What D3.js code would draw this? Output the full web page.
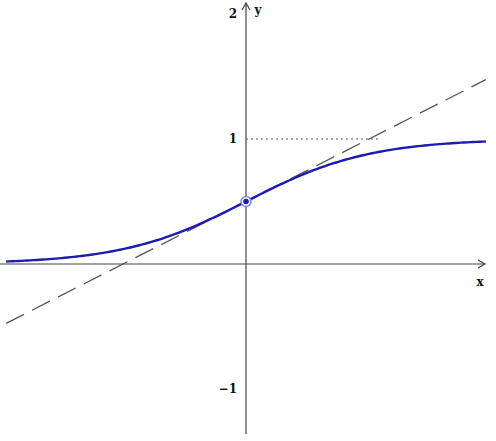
<!DOCTYPE html>
<html lang="en">
<head>
  <script src="https://d3js.org/d3.v7.min.js"></script>
  <style>
    body { margin: 0; background: #fff; }
    .lbl { font-family: "DejaVu Serif", serif; font-weight: bold; font-size: 12px; fill: #111; }
  </style>
</head>
<body>
<svg width="496" height="441"></svg>
<script>
  // data
  var xTicks = [];
  var yTicks = [2, 1, -1];
  var xStart = -3.9, xEnd = 3.9;
  var point = [0, 0.5];
  var slope = 0.25;

  var svg = d3.select("svg");

  var x = d3.scaleLinear().domain([-4, 4]).range([0, 492]);
  var y = d3.scaleLinear().domain([-1, 1]).range([389, 139]);

  function sigmoid(t) { return 1 / (1 + Math.exp(-t)); }

  // axes
  svg.append("line")
     .attr("x1", x(-4)).attr("x2", 484)
     .attr("y1", y(0)).attr("y2", y(0))
     .attr("stroke", "#444").attr("stroke-width", 1.2);
  svg.append("path")
     .attr("d", "M478," + (y(0) - 4) + " L485," + y(0) + " L478," + (y(0) + 4))
     .attr("fill", "none").attr("stroke", "#444").attr("stroke-width", 1.2);

  svg.append("line")
     .attr("x1", x(0)).attr("x2", x(0))
     .attr("y1", 434).attr("y2", 3)
     .attr("stroke", "#444").attr("stroke-width", 1.2);
  svg.append("path")
     .attr("d", "M" + (x(0) - 4) + ",10 L" + x(0) + ",3 L" + (x(0) + 4) + ",10")
     .attr("fill", "none").attr("stroke", "#444").attr("stroke-width", 1.2);

  svg.append("text").attr("class", "lbl").attr("x", 480).attr("y", 286)
     .attr("text-anchor", "middle").text("x");
  svg.append("text").attr("class", "lbl").attr("x", 258).attr("y", 14)
     .attr("text-anchor", "middle").text("y");

  svg.selectAll(".ytick").data(yTicks).enter().append("text")
     .attr("class", "lbl")
     .attr("x", x(0) - 9)
     .attr("y", function(d) { return y(d) + 4; })
     .attr("text-anchor", "end")
     .text(function(d) { return d < 0 ? "\u2212" + (-d) : d; });

  // dotted asymptote marker
  svg.append("line")
     .attr("x1", x(0)).attr("x2", 378)
     .attr("y1", y(1)).attr("y2", y(1))
     .attr("stroke", "#555").attr("stroke-width", 1)
     .attr("stroke-dasharray", "2,3");

  // tangent line
  svg.append("line")
     .attr("x1", x(xStart)).attr("y1", y(point[1] + slope * (xStart - point[0])))
     .attr("x2", x(xEnd)).attr("y2", y(point[1] + slope * (xEnd - point[0])))
     .attr("stroke", "#555").attr("stroke-width", 1.3)
     .attr("stroke-dasharray", "20,9");

  // curve
  var pts = d3.range(xStart, xEnd + 0.001, 0.05).map(function(t) { return [t, sigmoid(t)]; });
  svg.append("path")
     .datum(pts)
     .attr("d", d3.line().x(function(d) { return x(d[0]); }).y(function(d) { return y(d[1]); }))
     .attr("fill", "none").attr("stroke", "#1c1cb0").attr("stroke-width", 2.4);

  // point
  svg.append("circle")
     .attr("cx", x(point[0])).attr("cy", y(point[1])).attr("r", 5)
     .attr("fill", "#fff").attr("stroke", "#7a86d8").attr("stroke-width", 1.5);
  svg.append("circle")
     .attr("cx", x(point[0])).attr("cy", y(point[1])).attr("r", 2.8)
     .attr("fill", "#1c1cb0");
</script>
</body>
</html>
